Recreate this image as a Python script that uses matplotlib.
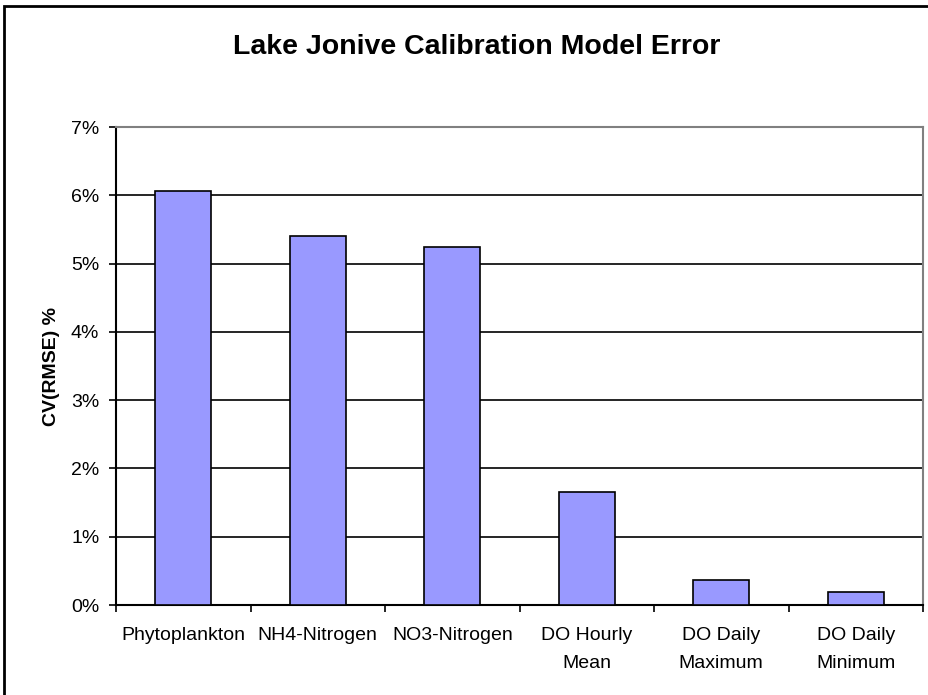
import matplotlib
matplotlib.use("Agg")
import matplotlib.pyplot as plt
from matplotlib.patches import Rectangle
from matplotlib.ticker import PercentFormatter

plt.rcParams["font.family"] = ["Liberation Sans", "DejaVu Sans"]

categories = ["Phytoplankton", "NH4-Nitrogen", "NO3-Nitrogen",
              "DO Hourly\nMean", "DO Daily\nMaximum", "DO Daily\nMinimum"]
cv_rmse = [6.07, 5.40, 5.24, 1.65, 0.36, 0.19]
yticks = [0, 1, 2, 3, 4, 5, 6, 7]

fig = plt.figure(figsize=(9.29, 6.95), dpi=100)
# outer chart border (cut off on right and bottom like the reference)
fig.patches.append(Rectangle((4 / 929, -0.05), 1.2, 1.05 - 6 / 695,
                             transform=fig.transFigure, fill=False,
                             edgecolor="black", linewidth=2))

ax = fig.add_axes([116 / 929, 1 - 605 / 695, (923 - 116) / 929, (605 - 127) / 695])
x = range(len(categories))
ax.bar(x, cv_rmse, width=0.42, color="#9999FF", edgecolor="black",
       linewidth=1.2, zorder=3)

ax.set_xlim(-0.5, len(categories) - 0.5)
ax.set_ylim(0, 7)
ax.set_yticks(yticks)
ax.yaxis.set_major_formatter(PercentFormatter(decimals=0))
ax.yaxis.grid(True, color="black", linewidth=1.2, zorder=0)

ax.set_xticks(list(x))
ax.set_xticklabels(categories, fontsize=14, linespacing=1.85)
ax.set_xticks([i - 0.5 for i in range(len(categories) + 1)], minor=True)
ax.tick_params(axis="x", which="major", length=0, pad=16)
ax.tick_params(axis="x", which="minor", length=5, width=1.2, direction="out")
ax.tick_params(axis="y", length=5, width=1.2, labelsize=14, pad=7)

for s in ["left", "bottom"]:
    ax.spines[s].set_color("black")
    ax.spines[s].set_linewidth(1.5)
for s in ["top", "right"]:
    ax.spines[s].set_color("#808080")
    ax.spines[s].set_linewidth(1.5)

ax.set_ylabel("CV(RMSE) %", fontsize=14, fontweight="bold", labelpad=8)
fig.text(477 / 929, 1 - 47 / 695, "Lake Jonive Calibration Model Error",
         ha="center", va="center", fontsize=20.5, fontweight="bold")

fig.savefig("out.png", dpi=100)
